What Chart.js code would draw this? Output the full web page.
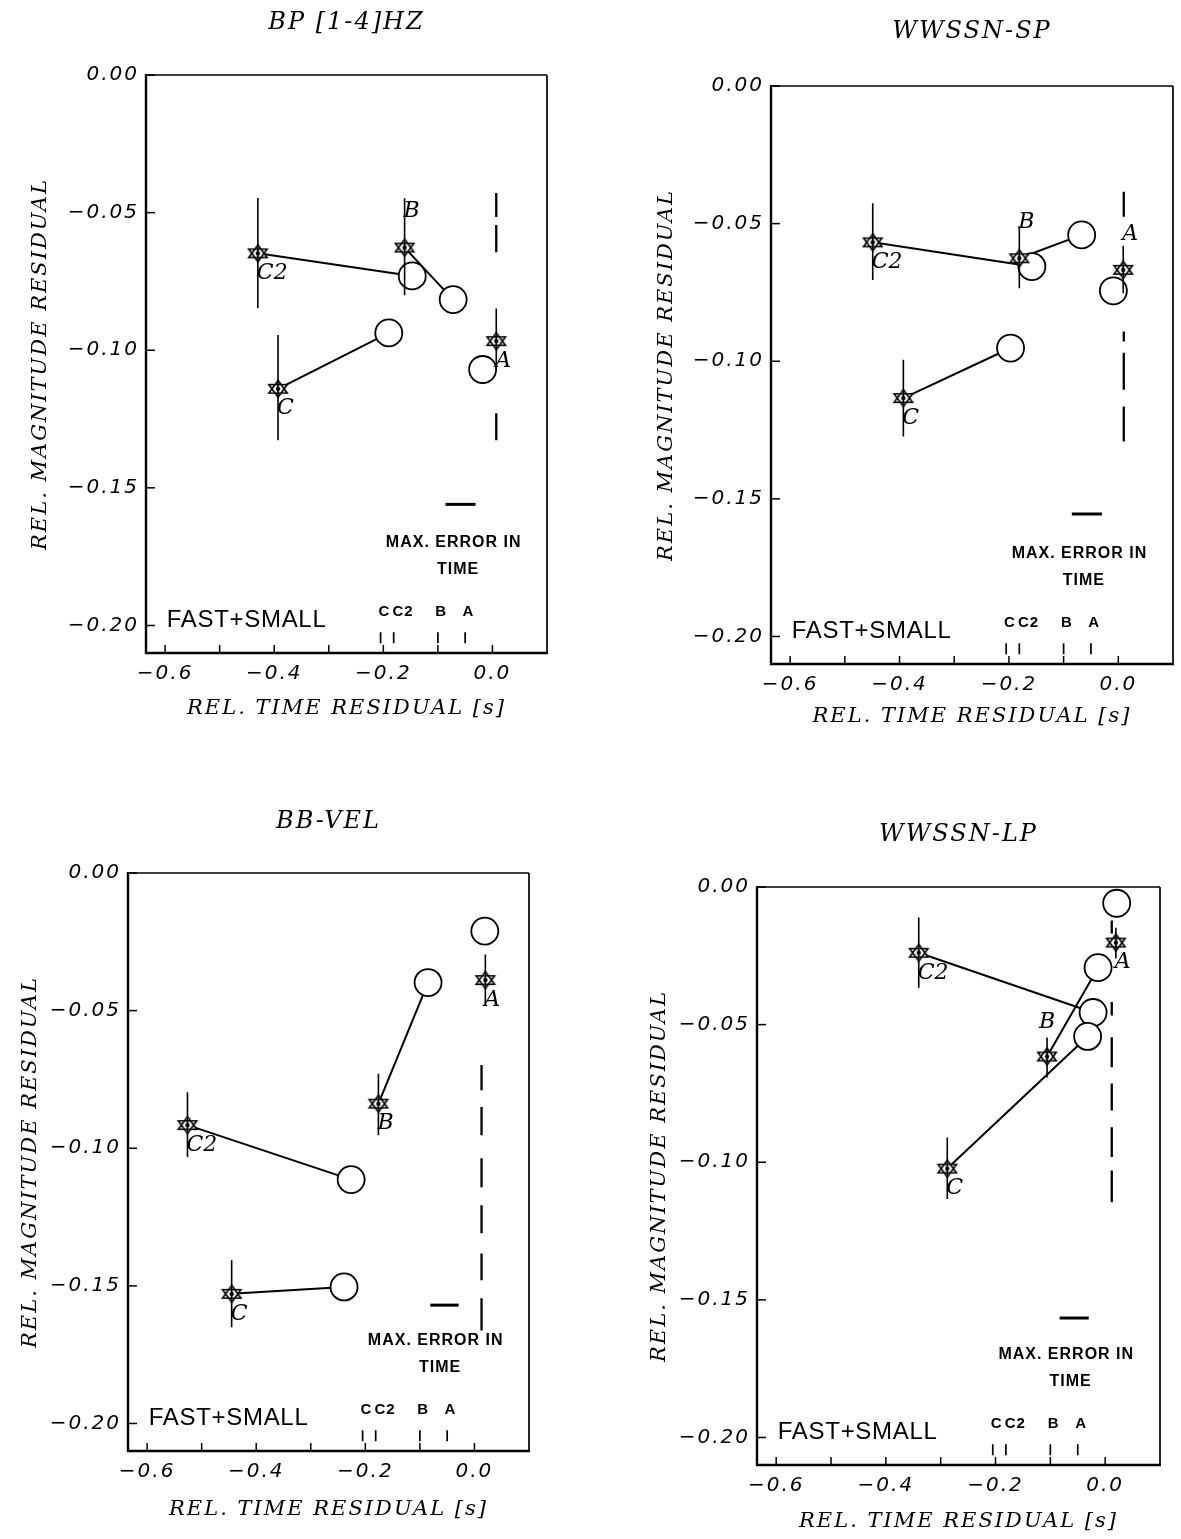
<!DOCTYPE html>
<html><head><meta charset="utf-8">
<script src="https://cdn.jsdelivr.net/npm/chart.js@4.4.1/dist/chart.umd.min.js"></script>
<style>
html,body{margin:0;padding:0;background:#fff;overflow:hidden;width:1181px;height:1539px;position:relative;}
canvas{position:absolute;}
</style></head><body>
<canvas id="c1"></canvas><canvas id="c2"></canvas><canvas id="c3"></canvas><canvas id="c4"></canvas>
<script>
// ---------------- data ----------------
const categories = ['C2', 'B', 'C', 'A'];
const connected = [true, true, true, false];
const panelTitles = ['BP [1-4]HZ', 'WWSSN-SP', 'BB-VEL', 'WWSSN-LP'];
const xTitle = 'REL. TIME RESIDUAL [s]';
const yTitle = 'REL. MAGNITUDE RESIDUAL';
const xTickValues = [-0.6, -0.5, -0.4, -0.3, -0.2, -0.1, 0.0];
const xTickLabels = ['\u22120.6', '', '\u22120.4', '', '\u22120.2', '', '0.0'];
const yTickValues = [0, -0.05, -0.10, -0.15, -0.20];
const yTickLabels = ['0.00', '\u22120.05', '\u22120.10', '\u22120.15', '\u22120.20'];
const timeErrorX = [-0.205, -0.181, -0.100, -0.050];
const timeErrorLabels = ['C', 'C2', 'B', 'A'];
const timeErrorLabelX = [-0.198, -0.164, -0.094, -0.044];
const timeErrorTop = -0.2025, timeErrorBottom = -0.2065, timeErrorLabelY = -0.195;

// BP [1-4]HZ
const bpStarX = [-0.430, -0.161, -0.393, 0.007];
const bpStarY = [-0.0648, -0.0627, -0.1140, -0.0967];
const bpErrHigh = [-0.0447, -0.0448, -0.0945, -0.0848];
const bpErrLow = [-0.0847, -0.0800, -0.1327, -0.1066];
const bpCircleX = [-0.147, -0.072, -0.190, -0.018];
const bpCircleY = [-0.0730, -0.0816, -0.0937, -0.1070];
const bpDashX = 0.007;
const bpDashTop = [-0.0429, -0.0545, -0.1229];
const bpDashBottom = [-0.0516, -0.0644, -0.1327];
const bpMaxErrorX = [-0.086, -0.031];
const bpMaxErrorY = -0.1560;

// WWSSN-SP
const spStarX = [-0.449, -0.181, -0.393, 0.009];
const spStarY = [-0.0568, -0.0626, -0.1134, -0.0668];
const spErrHigh = [-0.0426, -0.0510, -0.0995, -0.0580];
const spErrLow = [-0.0705, -0.0735, -0.1273, -0.0753];
const spCircleX = [-0.158, -0.067, -0.197, -0.009];
const spCircleY = [-0.0656, -0.0541, -0.0952, -0.0744];
const spDashX = 0.010;
const spDashTop = [-0.0384, -0.0892, -0.0969, -0.1164];
const spDashBottom = [-0.0475, -0.0928, -0.1104, -0.1292];
const spMaxErrorX = [-0.085, -0.030];
const spMaxErrorY = -0.1555;

// BB-VEL
const velStarX = [-0.526, -0.176, -0.445, 0.020];
const velStarY = [-0.0916, -0.0838, -0.1529, -0.0389];
const velErrHigh = [-0.0797, -0.0729, -0.1407, -0.0296];
const velErrLow = [-0.1032, -0.0953, -0.1650, -0.0480];
const velCircleX = [-0.226, -0.085, -0.239, 0.019];
const velCircleY = [-0.1114, -0.0398, -0.1504, -0.0211];
const velDashX = 0.013;
const velDashTop = [-0.0698, -0.0850, -0.1036, -0.1207, -0.1382, -0.1545];
const velDashBottom = [-0.0789, -0.0953, -0.1142, -0.1309, -0.1480, -0.1662];
const velMaxErrorX = [-0.081, -0.029];
const velMaxErrorY = -0.1570;

// WWSSN-LP
const lpStarX = [-0.340, -0.106, -0.288, 0.0195];
const lpStarY = [-0.0239, -0.0616, -0.1023, -0.0202];
const lpErrHigh = [-0.0111, -0.0547, -0.0910, -0.0148];
const lpErrLow = [-0.0366, -0.0692, -0.1134, -0.0260];
const lpCircleX = [-0.022, -0.013, -0.032, 0.021];
const lpCircleY = [-0.0456, -0.0293, -0.0543, -0.0059];
const lpDashX = 0.012;
const lpDashTop = [-0.0122, -0.0418, -0.0546, -0.0714, -0.0873, -0.1030];
const lpDashBottom = [-0.0169, -0.0467, -0.0655, -0.0812, -0.0981, -0.1145];
const lpMaxErrorX = [-0.083, -0.030];
const lpMaxErrorY = -0.1566;

// ---------------- layout / style (not data) ----------------
const panelLayout = [
  {id: 'c1', L: 146, T: 75,  R: 547,  B: 653,  titleGap: 52, xTitleGap: 56, yTitleGap: 105},
  {id: 'c2', L: 771, T: 86,  R: 1173, B: 664,  titleGap: 54, xTitleGap: 53, yTitleGap: 104},
  {id: 'c3', L: 128, T: 873, R: 529,  B: 1451, titleGap: 51, xTitleGap: 59, yTitleGap: 97},
  {id: 'c4', L: 757, T: 887, R: 1160, B: 1465, titleGap: 52, xTitleGap: 57, yTitleGap: 97}
];
const labelPlacement = [
  ['below', 'above', 'below', 'below'],
  ['below', 'above', 'below', 'above'],
  ['below', 'below', 'below', 'below'],
  ['below', 'aboveCenter', 'below', 'below']
];
const Y_AXIS_W = 120, X_AXIS_H = 72, TOP_H = 75, RIGHT_PAD = 40;
const TITLE_SIZE = 24, AXIS_TITLE_SIZE = 21, TICK_SIZE = 20;

function hexagram() {
  const c = document.createElement('canvas');
  c.width = 24; c.height = 22;
  const g = c.getContext('2d');
  const cx = 12, cy = 11, R = 8.5, hw = 9.2;
  const up = () => { g.beginPath(); g.moveTo(cx, cy - R); g.lineTo(cx + hw, cy + R / 2); g.lineTo(cx - hw, cy + R / 2); g.closePath(); };
  const dn = () => { g.beginPath(); g.moveTo(cx, cy + R); g.lineTo(cx + hw, cy - R / 2); g.lineTo(cx - hw, cy - R / 2); g.closePath(); };
  g.fillStyle = '#fff';
  up(); g.fill(); dn(); g.fill();
  g.strokeStyle = '#000'; g.lineWidth = 1.6;
  up(); g.stroke(); dn(); g.stroke();
  g.fillStyle = '#000'; g.beginPath(); g.arc(cx, cy, 2.2, 0, Math.PI * 2); g.fill();
  return c;
}
const starImg = hexagram();

const pts = (xs, ys) => xs.map((x, i) => ({x: x, y: ys[i]}));
function vSegments(xs, tops, bots) {
  const d = [];
  xs.forEach((x, i) => { d.push({x: x, y: tops[i]}, {x: x, y: bots[i]}, {x: x, y: null}); });
  return d;
}
function connectorData(sx, sy, cx, cy) {
  const d = [];
  categories.forEach((c, i) => { if (connected[i]) d.push({x: sx[i], y: sy[i]}, {x: cx[i], y: cy[i]}, {x: cx[i], y: null}); });
  return d;
}

const spacingPlugin = {id: 'spacing', beforeDraw(chart) { chart.ctx.letterSpacing = '2px'; }};

const annotPlugin = {
  id: 'annot',
  afterDatasetsDraw(chart) {
    const p = chart.options.plugins.annot;
    const ctx = chart.ctx, xs = chart.scales.x, ys = chart.scales.y, ca = chart.chartArea;
    const X = v => xs.getPixelForValue(v), Y = v => ys.getPixelForValue(v);
    ctx.save();
    ctx.letterSpacing = '0px';
    ctx.strokeStyle = '#000'; ctx.fillStyle = '#000';
    const line = (x1, y1, x2, y2, w) => { ctx.lineWidth = w; ctx.beginPath(); ctx.moveTo(x1, y1); ctx.lineTo(x2, y2); ctx.stroke(); };
    // frame
    line(ca.left, ca.top, ca.right, ca.top, 1.7);
    line(ca.right, ca.top, ca.right, ca.bottom, 1.7);
    line(ca.left, ca.top - 1, ca.left, ca.bottom + 1, 2.4);
    line(ca.left - 1, ca.bottom, ca.right + 1, ca.bottom, 2.4);
    // inward ticks
    xTickValues.forEach(v => line(X(v), ca.bottom, X(v), ca.bottom - 8, 1.5));
    yTickValues.forEach(v => line(ca.left, Y(v), ca.left + 9, Y(v), 1.5));
    // star labels
    ctx.font = 'italic 22px "DejaVu Serif"';
    ctx.textBaseline = 'middle';
    p.starX.forEach((x, i) => {
      const px = X(x), py = Y(p.starY[i]), pl = p.place[i];
      if (pl === 'below') { ctx.textAlign = 'left'; ctx.fillText(categories[i], px - 1, py + 20); }
      else if (pl === 'above') { ctx.textAlign = 'left'; ctx.fillText(categories[i], px - 1, py - 36); }
      else { ctx.textAlign = 'center'; ctx.fillText(categories[i], px, py - 34); }
    });
    // FAST+SMALL
    ctx.font = '24px "Liberation Sans"'; ctx.letterSpacing = '0.7px'; ctx.textAlign = 'left';
    ctx.fillText('FAST+SMALL', X(-0.597), Y(-0.198));
    // MAX. ERROR IN TIME
    ctx.font = 'bold 16px "Liberation Sans"'; ctx.letterSpacing = '1px'; ctx.textAlign = 'center';
    ctx.fillText('MAX. ERROR IN', X(-0.071), Y(-0.170));
    ctx.fillText('TIME', X(-0.063), Y(-0.1797));
    ctx.font = 'bold 15px "Liberation Sans"';
    timeErrorLabels.forEach((t, i) => ctx.fillText(t, X(timeErrorLabelX[i]), Y(timeErrorLabelY)));
    ctx.restore();
  }
};

function makePanel(k, starX, starY, errHigh, errLow, circX, circY, dashX, dashTop, dashBot, maxErrX, maxErrY) {
  const lay = panelLayout[k];
  const cv = document.getElementById(lay.id);
  cv.width = lay.R - lay.L + Y_AXIS_W + RIGHT_PAD;
  cv.height = (lay.B - lay.T) + TOP_H + X_AXIS_H;
  cv.style.left = (lay.L - Y_AXIS_W) + 'px';
  cv.style.top = (lay.T - TOP_H) + 'px';
  const tlh = TITLE_SIZE * 1.2, alh = AXIS_TITLE_SIZE * 1.2;
  const titlePadTop = TOP_H - lay.titleGap - tlh / 2;
  const lineStyle = {showLine: true, borderColor: '#000', pointRadius: 0, pointHoverRadius: 0, fill: false, tension: 0, spanGaps: false};
  new Chart(cv, {
    type: 'scatter',
    data: {
      datasets: [
        Object.assign({label: 'ref', data: vSegments(dashTop.map(() => dashX), dashTop, dashBot), borderWidth: 2.3, order: 4}, lineStyle),
        Object.assign({label: 'connect', data: connectorData(starX, starY, circX, circY), borderWidth: 2, order: 3}, lineStyle),
        Object.assign({label: 'maxerr', data: [{x: maxErrX[0], y: maxErrY}, {x: maxErrX[1], y: maxErrY}], borderWidth: 3, order: 3}, lineStyle),
        Object.assign({label: 'timeerr', data: vSegments(timeErrorX, timeErrorX.map(() => timeErrorTop), timeErrorX.map(() => timeErrorBottom)), borderWidth: 1.7, order: 3}, lineStyle),
        {label: 'circles', data: pts(circX, circY), pointStyle: 'circle', pointRadius: 13.5, pointHoverRadius: 13.5,
         pointBackgroundColor: '#fff', pointBorderColor: '#000', pointBorderWidth: 1.8, order: 2, clip: false},
        {label: 'stars', data: pts(starX, starY), pointStyle: starImg, pointRadius: 10, pointHoverRadius: 10, order: 1, clip: false},
        Object.assign({label: 'err', data: vSegments(starX, errHigh, errLow), borderWidth: 1.6, order: 0}, lineStyle)
      ]
    },
    options: {
      responsive: false, maintainAspectRatio: false, animation: false, devicePixelRatio: 1, events: [],
      layout: {padding: {left: 0, right: RIGHT_PAD, top: 0, bottom: 0}},
      scales: {
        x: {
          type: 'linear', min: -0.635, max: 0.1,
          afterBuildTicks: s => { s.ticks = xTickValues.map(v => ({value: v})); },
          afterFit: s => { s.height = X_AXIS_H; },
          grid: {display: false, drawTicks: false}, border: {display: false},
          ticks: {autoSkip: false, maxRotation: 0, minRotation: 0, padding: 9, color: '#000',
            font: {family: 'DejaVu Sans', size: TICK_SIZE, style: 'italic'},
            callback: v => xTickLabels[xTickValues.findIndex(t => Math.abs(t - v) < 1e-9)]},
          title: {display: true, text: xTitle, color: '#000', font: {family: 'DejaVu Serif', size: AXIS_TITLE_SIZE, style: 'italic'},
            padding: {top: 0, bottom: X_AXIS_H - alh / 2 - lay.xTitleGap}}
        },
        y: {
          type: 'linear', min: -0.21, max: 0,
          afterBuildTicks: s => { s.ticks = yTickValues.map(v => ({value: v})); },
          afterFit: s => { s.width = Y_AXIS_W; },
          grid: {display: false, drawTicks: false}, border: {display: false},
          ticks: {padding: 7, color: '#000', font: {family: 'DejaVu Sans', size: TICK_SIZE, style: 'italic'},
            callback: v => yTickLabels[yTickValues.findIndex(t => Math.abs(t - v) < 1e-9)]},
          title: {display: true, text: yTitle, color: '#000', font: {family: 'DejaVu Serif', size: AXIS_TITLE_SIZE, style: 'italic'},
            padding: {top: Y_AXIS_W - lay.yTitleGap - alh / 2, bottom: 0}}
        }
      },
      plugins: {
        legend: {display: false}, tooltip: {enabled: false},
        title: {display: true, text: panelTitles[k], fullSize: false, color: '#000',
          font: {family: 'DejaVu Serif', size: TITLE_SIZE, style: 'italic', weight: 'normal'},
          padding: {top: titlePadTop, bottom: TOP_H - tlh - titlePadTop}},
        annot: {starX: starX, starY: starY, place: labelPlacement[k]}
      }
    },
    plugins: [spacingPlugin, annotPlugin]
  });
}

makePanel(0, bpStarX, bpStarY, bpErrHigh, bpErrLow, bpCircleX, bpCircleY, bpDashX, bpDashTop, bpDashBottom, bpMaxErrorX, bpMaxErrorY);
makePanel(1, spStarX, spStarY, spErrHigh, spErrLow, spCircleX, spCircleY, spDashX, spDashTop, spDashBottom, spMaxErrorX, spMaxErrorY);
makePanel(2, velStarX, velStarY, velErrHigh, velErrLow, velCircleX, velCircleY, velDashX, velDashTop, velDashBottom, velMaxErrorX, velMaxErrorY);
makePanel(3, lpStarX, lpStarY, lpErrHigh, lpErrLow, lpCircleX, lpCircleY, lpDashX, lpDashTop, lpDashBottom, lpMaxErrorX, lpMaxErrorY);
</script>
</body></html>
